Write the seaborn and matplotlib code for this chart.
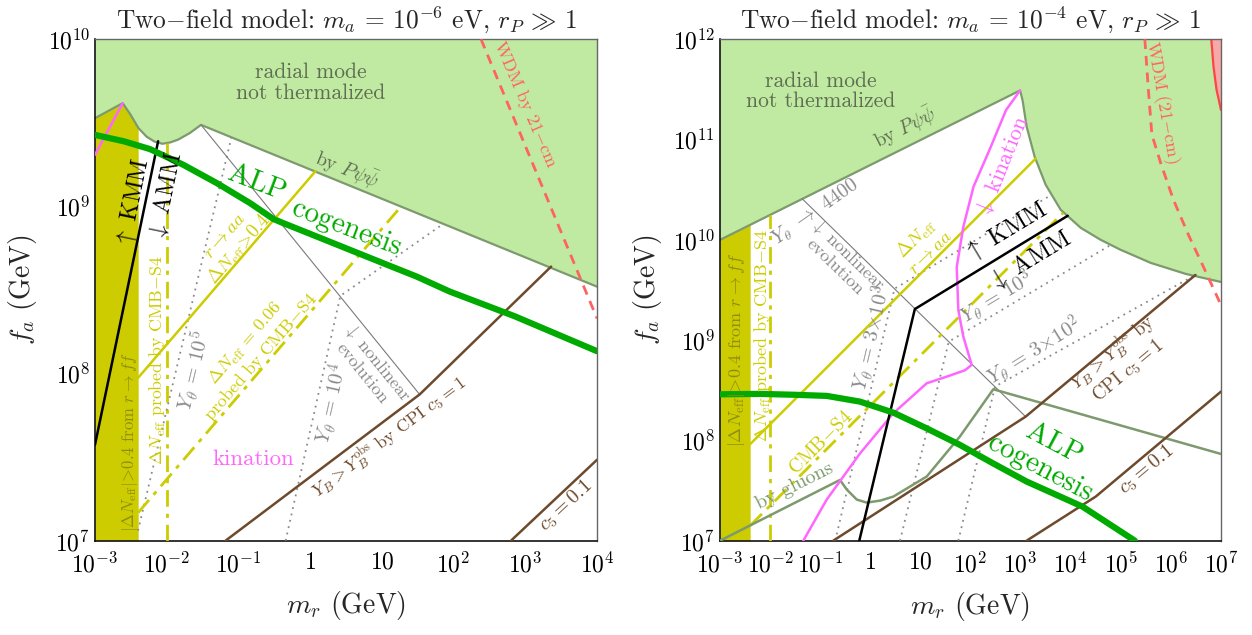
import numpy as np
import matplotlib
matplotlib.use("Agg")
import matplotlib.pyplot as plt
import seaborn as sns

# ---------------------------------------------------------------
# Data: log10(m_r / GeV) and log10(f_a / GeV)
# ---------------------------------------------------------------
# ---- left panel: m_a = 1e-6 eV ----
L_xt = [-3, -2, -1, 0, 1, 2, 3, 4]
L_yt = [7, 8, 9, 10]
L_rad_m = [-3, -2.614, -2.503, -2.393, -2.282, -2.171, -2.06, -1.95, -1.84, -1.675, -1.522, 4.0]
L_rad_f = [9.528, 9.618, 9.548, 9.468, 9.418, 9.388, 9.375, 9.383, 9.40, 9.44, 9.488, 8.52]
L_cog_m = [-3, -2.6, -2.233, -1.768, -1.303, -0.838, -0.513, -0.374, 0.092, 0.556, 1.02, 1.487, 1.95, 2.852, 4.0]
L_cog_f = [9.428, 9.39, 9.343, 9.249, 9.14, 9.02, 8.925, 8.90, 8.82, 8.74, 8.66, 8.58, 8.49, 8.343, 8.134]
L_kmm_m = [-3.0, -2.12]
L_kmm_f = [7.574, 9.39]
L_kin_m = [-3.0, -2.614]
L_kin_f = [9.309, 9.618]
L_aa_m = [-2.398, 0.073]
L_aa_f = [7.975, 9.21]
L_s4_m = [-2.398, 1.268]
L_s4_f = [7.168, 9.0]
L_y5_m = [-2.40, -1.10]
L_y5_f = [7.06, 9.41]
L_y4_m = [-0.342, 0.421, 1.86]
L_y4_f = [7.0, 8.465, 8.897]
L_nl_m = [-1.522, 1.527]
L_nl_f = [9.488, 7.875]
L_cpi1_m = [-1.18, 1.527, 3.36]
L_cpi1_f = [7.0, 7.875, 8.64]
L_cpi01_m = [2.80, 4.0]
L_cpi01_f = [7.0, 7.484]
L_wdm_m = [2.383, 4.0]
L_wdm_f = [10.0, 8.33]
L_ff_edge = -2.398          # |dN_eff|>0.4 from r->ff below m_r ~ 4e-3 GeV
L_s4_vert = -2.0            # CMB-S4 reach, m_r = 1e-2 GeV

# ---- right panel: m_a = 1e-4 eV ----
R_xt = [-3, -2, -1, 0, 1, 2, 3, 4, 5, 6, 7]
R_yt = [7, 8, 9, 10, 11, 12]
R_rad_m = [-3, 2.99, 3.04, 3.12, 3.28, 3.5, 3.8, 4.2, 4.6, 5.0, 5.6, 6.3, 7.0]
R_rad_f = [10.0, 11.49, 11.39, 11.13, 10.83, 10.55, 10.30, 10.12, 10.0, 9.9, 9.77, 9.66, 9.58]
R_glu_m = [-3, -0.605, -0.47, -0.27, -0.072, 0.2, 0.46, 1.126, 1.79, 2.455, 7.0]
R_glu_f = [7.0, 7.606, 7.51, 7.41, 7.38, 7.40, 7.44, 7.64, 8.04, 8.51, 7.865]
R_cog_m = [-3, -2.2, -1.5, -0.87, -0.206, 0.46, 1.126, 1.79, 2.455, 3.12, 3.79, 4.235, 5.28]
R_cog_f = [8.46, 8.464, 8.455, 8.444, 8.387, 8.277, 8.12, 7.955, 7.77, 7.59, 7.44, 7.34, 7.0]
R_kin_m = [2.99, 2.71, 2.39, 2.06, 1.857, 1.725, 1.757, 1.857, 2.024, 1.89, 1.525, 1.126, 0.459, -0.206, -0.87, -1.337]
R_kin_f = [11.49, 11.295, 10.91, 10.53, 10.13, 9.73, 9.30, 9.035, 8.753, 8.70, 8.636, 8.57, 8.27, 7.87, 7.41, 7.0]
R_kmm_m = [-0.22, 0.889, 3.94]
R_kmm_f = [7.0, 9.31, 10.24]
R_aa_m = [-2.398, 3.3]
R_aa_f = [7.963, 10.81]
R_s4_m = [-2.398, 3.85]
R_s4_f = [7.15, 10.27]
R_nl_m = [-1.36, 3.1]
R_nl_f = [10.41, 8.237]
R_y3k_m = [-0.70, 0.483, 3.62]
R_y3k_f = [7.0, 9.513, 10.45]
R_y1k_m = [0.593, 1.566, 4.8]
R_y1k_f = [7.0, 8.985, 9.95]
R_y300_m = [1.757, 2.489, 6.45]
R_y300_f = [7.0, 8.537, 9.64]
R_cpi1_m = [-0.74, 3.1, 6.49]
R_cpi1_f = [7.0, 8.237, 9.65]
R_cpi01_m = [3.12, 4.5, 7.0]
R_cpi01_f = [7.0, 7.44, 8.487]
R_wdm_m = [5.48, 5.55, 5.62, 5.8, 6.05, 6.35, 6.65, 7.0]
R_wdm_f = [12.0, 11.5, 11.05, 10.76, 10.4, 10.05, 9.73, 9.35]
R_red_m = [6.806, 6.85, 6.91, 7.0]
R_red_f = [12.0, 11.73, 11.50, 11.295]
R_ff_edge = -2.398
R_s4_vert = -2.0

# ---------------------------------------------------------------
C_FILL = '#c0eaa2'
C_EDGE = '#7d9a6e'
C_OLIVE = '#cccc00'
C_OLIVE_DK = '#8e8e12'
C_COG = '#00aa00'
C_BROWN = '#6e4a2c'
C_MAG = '#ff66ff'
C_GREY = '#8a8a8a'
C_RED = '#ff6262'
C_RADTXT = '#5f6d52'

sns.set_style("white")
plt.rcParams['font.family'] = 'serif'
plt.rcParams['font.serif'] = ['cmr10']
plt.rcParams['mathtext.fontset'] = 'cm'
plt.rcParams['axes.formatter.use_mathtext'] = True
plt.rcParams['axes.unicode_minus'] = False


def P(a):
    return 10.0 ** np.asarray(a, dtype=float)


def line(ax, lm, lf, color, lw=1.5, ls='-', z=3):
    sns.lineplot(x=P(lm), y=P(lf), ax=ax, color=color, linewidth=lw,
                 linestyle=ls, sort=False, estimator=None, legend=False,
                 zorder=z)


def txt(ax, lm, lf, s, color, size=14, rot=0, **kw):
    ax.text(10 ** lm, 10 ** lf, s, color=color, fontsize=size, rotation=rot,
            ha='center', va='center', rotation_mode='anchor', zorder=6, **kw)


def tick_label(e):
    if e == 0:
        return r'$1$'
    if e == 1:
        return r'$10$'
    return r'$10^{%d}$' % e


def setup(ax, xt, yt, title):
    ax.set_xscale('log')
    ax.set_yscale('log')
    ax.set_xlim(10.0 ** xt[0], 10.0 ** xt[-1])
    ax.set_ylim(10.0 ** yt[0], 10.0 ** yt[-1])
    ax.set_xticks(P(xt))
    ax.set_xticklabels([tick_label(e) for e in xt])
    ax.set_yticks(P(yt))
    ax.set_yticklabels([r'$10^{%d}$' % e for e in yt])
    ax.xaxis.set_minor_locator(matplotlib.ticker.LogLocator(base=10, subs=np.arange(2, 10), numticks=100))
    ax.yaxis.set_minor_locator(matplotlib.ticker.LogLocator(base=10, subs=np.arange(2, 10), numticks=100))
    ax.xaxis.set_minor_formatter(matplotlib.ticker.NullFormatter())
    ax.yaxis.set_minor_formatter(matplotlib.ticker.NullFormatter())
    ax.tick_params(which='both', direction='in', top=False, right=False,
                   labelsize=17, colors='black')
    ax.tick_params(which='major', length=8, width=1)
    ax.tick_params(which='minor', length=4, width=0.8)
    ax.tick_params(axis='x', pad=8)
    for s in ['left', 'bottom']:
        ax.spines[s].set_color('#111111')
        ax.spines[s].set_linewidth(1.2)
    for s in ['top', 'right']:
        ax.spines[s].set_color('#666666')
        ax.spines[s].set_linewidth(1.0)
    ax.set_xlabel(r'$m_r$ (GeV)', fontsize=20, labelpad=9)
    ax.set_ylabel(r'$f_a$ (GeV)', fontsize=20, labelpad=6)
    ax.set_title(title, fontsize=18.3, pad=8)


def regions(ax, rad_m, rad_f, ff_edge, s4v, ytop, ybot):
    xs = P(rad_m)
    ax.fill_between(xs, P(rad_f), 10.0 ** ytop, color=C_FILL, lw=0, zorder=1)
    line(ax, rad_m, rad_f, C_EDGE, lw=1.6, z=2)
    # olive strip
    sm = np.linspace(rad_m[0], ff_edge, 40)
    ax.fill_between(P(sm), 10.0 ** ybot, P(np.interp(sm, rad_m, rad_f)),
                    color=C_OLIVE, lw=0, zorder=1)
    # CMB-S4 vertical reach
    fv = np.interp(s4v, rad_m, rad_f)
    line(ax, [s4v, s4v], [ybot, fv], C_OLIVE, lw=2.0, ls=(0, (6, 2.5, 1.5, 2.5)), z=3)


fig = plt.figure(figsize=(12.52, 6.35), dpi=100)
axL = fig.add_axes([95 / 1252, 94.3 / 635, 502 / 1252, 501.4 / 635])
axR = fig.add_axes([720 / 1252, 94.3 / 635, 501 / 1252, 501.4 / 635])

# ===================== LEFT =====================
ax = axL
setup(ax, L_xt, L_yt, r'Two$-$field model: $m_a$ = $10^{-6}$ eV, $r_P\,\gg\,1$')
regions(ax, L_rad_m, L_rad_f, L_ff_edge, L_s4_vert, 10, 7)
dot = (0, (1, 2.6))
line(ax, L_y5_m, L_y5_f, C_GREY, lw=1.3, ls=dot)
line(ax, L_y4_m, L_y4_f, C_GREY, lw=1.3, ls=dot)
line(ax, L_nl_m, L_nl_f, '#7a7a7a', lw=0.8)
line(ax, L_aa_m, L_aa_f, C_OLIVE, lw=1.8)
line(ax, L_s4_m, L_s4_f, C_OLIVE, lw=2.0, ls=(0, (6, 2.5, 1.5, 2.5)))
line(ax, L_cpi1_m, L_cpi1_f, C_BROWN, lw=1.8)
line(ax, L_cpi01_m, L_cpi01_f, C_BROWN, lw=1.8)
line(ax, L_kin_m, L_kin_f, C_MAG, lw=1.8)
line(ax, L_kmm_m, L_kmm_f, 'black', lw=1.8)
line(ax, L_wdm_m, L_wdm_f, C_RED, lw=2.0, ls=(0, (3.5, 2.5)))
line(ax, L_cog_m, L_cog_f, C_COG, lw=4.5, z=4)

txt(ax, 0.01, 9.74, 'radial mode\nnot thermalized', C_RADTXT, 15.5, linespacing=1.05)
txt(ax, 0.51, 9.22, r'by $P\psi\bar{\psi}$', C_RADTXT, 14, -22)
txt(ax, -0.74, 9.14, 'ALP', C_COG, 21, -21)
txt(ax, 0.50, 8.87, 'cogenesis', C_COG, 21, -21)
txt(ax, -2.46, 9.02, r'$\uparrow$ KMM', 'black', 17, 78.3)
txt(ax, -2.02, 9.06, r'$\downarrow$ AMM', 'black', 17, 78.3)
txt(ax, -1.08, 8.78, r'$r\rightarrow aa$' + '\n' + r'$\Delta N_{\rm eff}\!>\!0.4$', C_OLIVE, 13.5, 49, linespacing=1.05)
txt(ax, -0.79, 8.14, r'$\Delta N_{\rm eff}$ = 0.06' + '\n' + 'probed by CMB$-$S4', C_OLIVE, 13, 49, linespacing=1.05)
txt(ax, -1.63, 8.02, r'$Y_\theta$ = $10^5$', C_GREY, 15, 76.5)
txt(ax, 0.30, 7.82, r'$Y_\theta$ = $10^4$', C_GREY, 15, 77.4)
txt(ax, 0.84, 8.04, r'$\downarrow$ nonlinear' + '\n' + 'evolution', C_GREY, 13, -51, linespacing=1.05)
txt(ax, 1.11, 7.62, r'$Y_B > Y_B^{\rm obs}$ by CPI $c_5 = 1$', C_BROWN, 13, 37)
txt(ax, 3.57, 7.21, r'$c_5 = 0.1$', C_BROWN, 14.5, 43)
txt(ax, -0.79, 7.49, 'kination', C_MAG, 16.5)
txt(ax, 3.0, 9.61, r'WDM by 21$-$cm', C_RED, 13, -66.7)
txt(ax, -2.51, 7.59, r'$|\Delta N_{\rm eff}|\!>\!0.4$ from $r\rightarrow ff$', C_OLIVE_DK, 12, 90)
txt(ax, -2.12, 8.08, r'$\Delta N_{\rm eff}$ probed by CMB$-$S4', C_OLIVE, 12.8, 90)

# ===================== RIGHT =====================
ax = axR
setup(ax, R_xt, R_yt, r'Two$-$field model: $m_a$ = $10^{-4}$ eV, $r_P\,\gg\,1$')
ax.fill_betweenx(P(R_red_f), P(R_red_m), 10.0 ** 7, color='#f7a8a8', lw=0, zorder=1.5)
line(ax, R_red_m, R_red_f, '#ff4444', lw=1.6, z=2)
regions(ax, R_rad_m, R_rad_f, R_ff_edge, R_s4_vert, 12, 7)
line(ax, R_y3k_m, R_y3k_f, C_GREY, lw=1.3, ls=dot)
line(ax, R_y1k_m, R_y1k_f, C_GREY, lw=1.3, ls=dot)
line(ax, R_y300_m, R_y300_f, C_GREY, lw=1.3, ls=dot)
line(ax, R_nl_m, R_nl_f, '#7a7a7a', lw=0.8)
line(ax, R_aa_m, R_aa_f, C_OLIVE, lw=1.8)
line(ax, R_s4_m, R_s4_f, C_OLIVE, lw=2.0, ls=(0, (6, 2.5, 1.5, 2.5)))
line(ax, R_glu_m, R_glu_f, C_EDGE, lw=1.8)
line(ax, R_cpi1_m, R_cpi1_f, C_BROWN, lw=1.8)
line(ax, R_cpi01_m, R_cpi01_f, C_BROWN, lw=1.8)
line(ax, R_kin_m, R_kin_f, C_MAG, lw=1.8)
line(ax, R_kmm_m, R_kmm_f, 'black', lw=1.8)
line(ax, R_wdm_m, R_wdm_f, C_RED, lw=2.0, ls=(0, (3.5, 2.5)))
line(ax, R_cog_m, R_cog_f, C_COG, lw=4.5, z=4)

txt(ax, -0.99, 11.48, 'radial mode\nnot thermalized', C_RADTXT, 15.5, linespacing=1.05)
txt(ax, 0.69, 11.12, r'by $P\psi\bar{\psi}$', C_RADTXT, 14, 26.6)
txt(ax, -1.10, 10.28, r'$Y_\theta$ $\rightarrow$ 4400', C_GREY, 14.5, 35)
txt(ax, -0.57, 9.80, r'$\downarrow$ nonlinear' + '\n' + 'evolution', C_GREY, 13, -44, linespacing=1.05)
txt(ax, 1.05, 9.95, r'$\Delta N_{\rm eff}$' + '\n' + r'$r\rightarrow aa$', C_OLIVE, 13.5, 45, linespacing=1.05)
txt(ax, 2.71, 10.08, r'$\uparrow$ KMM', 'black', 17.5, 31)
txt(ax, 3.19, 9.79, r'$\downarrow$ AMM', 'black', 17.5, 31)
txt(ax, 2.63, 10.74, r'$\downarrow$ kination', C_MAG, 16, 68)
txt(ax, 2.51, 9.43, r'$Y_\theta$ = $10^3$', C_GREY, 15, 31)
txt(ax, 0.02, 9.03, r'$Y_\theta$ = $3{\times}10^3$', C_GREY, 15, 77)
txt(ax, 3.27, 8.89, r'$Y_\theta$ = $3{\times}10^2$', C_GREY, 15, 32)
txt(ax, -0.97, 7.98, r'CMB$-$S4', C_OLIVE, 14, 45)
txt(ax, -1.50, 7.545, 'by gluons', C_EDGE, 14.5, 26.6)
txt(ax, 3.67, 7.97, 'ALP', C_COG, 21, -28)
txt(ax, 3.39, 7.72, 'cogenesis', C_COG, 21, -28)
txt(ax, 4.98, 8.79, r'$Y_B > Y_B^{\rm obs}$ by' + '\n' + r'CPI $c_5 = 1$', C_BROWN, 13.5, 39.8, linespacing=1.0)
txt(ax, 5.52, 7.71, r'$c_5 = 0.1$', C_BROWN, 14.5, 39.8)
txt(ax, 5.82, 11.37, r'WDM (21$-$cm)', C_RED, 13, -80)
txt(ax, -2.67, 8.90, r'$|\Delta N_{\rm eff}|\!>\!0.4$ from $r\rightarrow ff$', C_OLIVE_DK, 13, 90)
txt(ax, -2.135, 9.04, r'$\Delta N_{\rm eff}$ probed by CMB$-$S4', C_OLIVE, 13, 90)

fig.savefig('out.png', dpi=100)
